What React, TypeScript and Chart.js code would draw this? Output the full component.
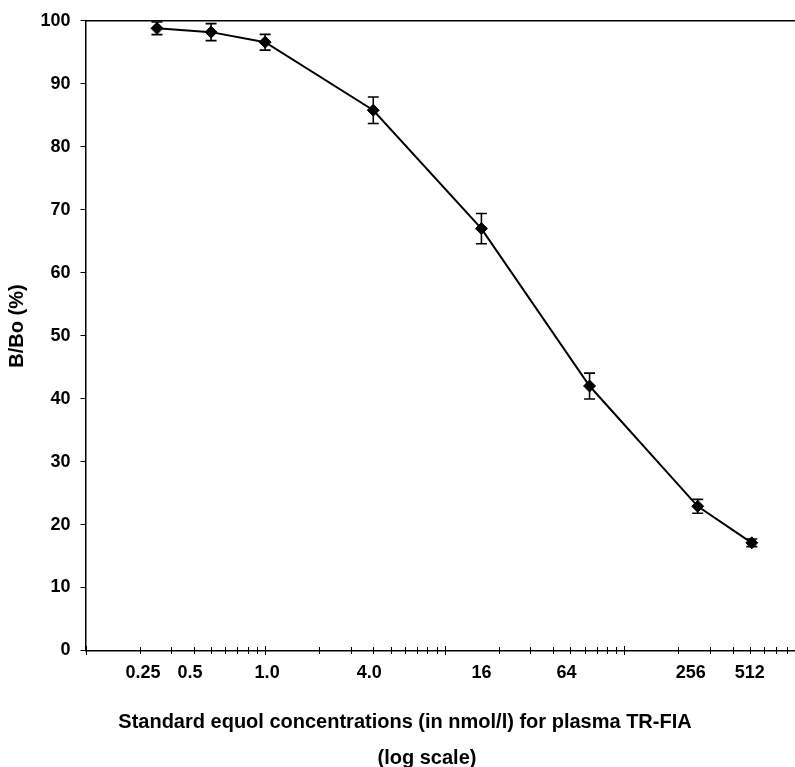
import React, { useEffect, useRef } from 'react';
import { Chart, registerables } from 'chart.js';

Chart.register(...registerables);

// ---- data ----
const concentrations = [0.25, 0.5, 1, 4, 16, 64, 256, 512];
const bBoPercent = [98.8, 98.2, 96.6, 85.8, 67.0, 42.0, 22.9, 17.1];
const errorValues = [1.0, 1.35, 1.25, 2.1, 2.4, 2.05, 1.1, 0.6];
const xTickLabelValues = [0.25, 0.5, 1, 4, 16, 64, 256, 512];
const xTickLabels = ['0.25', '0.5', '1.0', '4.0', '16', '64', '256', '512'];
const xTitleLines = ['Standard equol concentrations (in nmol/l) for plasma TR-FIA', '(log scale)'];
const yTitle = 'B/Bo (%)';

// ---- styling (label nudges in px, as placed in the original figure) ----
const xLabelNudges = [-14, -21, 2, -4, 0, -23, -7, -2];
const FONT = '"Liberation Sans", Arial, Helvetica, sans-serif';

const X_MIN = 0.1;
const X_MAX = 1000;

function buildLogTicks() {
  const ticks: { v: number; major: boolean }[] = [];
  for (let d = X_MIN; d < X_MAX * 0.999; d *= 10) {
    for (let m = 1; m <= 9; m++) ticks.push({ v: +(m * d).toPrecision(6), major: m === 1 });
  }
  ticks.push({ v: X_MAX, major: true });
  return ticks;
}

const decorPlugin = {
  id: 'decor',
  afterDatasetsDraw(chart: any) {
    const { ctx, chartArea, scales } = chart;
    const x = scales.x;
    const y = scales.y;
    ctx.save();
    ctx.strokeStyle = '#000';
    ctx.fillStyle = '#000';
    ctx.lineWidth = 1.5;

    // top frame line
    ctx.beginPath();
    ctx.moveTo(chartArea.left, chartArea.top);
    ctx.lineTo(chart.width, chartArea.top);
    ctx.stroke();

    // x-axis tick marks (crossing the axis)
    const y0 = chartArea.bottom;
    ctx.lineWidth = 1;
    buildLogTicks().forEach((t) => {
      const px = Math.round(x.getPixelForValue(t.v)) + 0.5;
      const h = t.major ? 4.5 : 3.5;
      ctx.beginPath();
      ctx.moveTo(px, y0 - h);
      ctx.lineTo(px, y0 + h);
      ctx.stroke();
    });

    // error bars
    ctx.lineWidth = 1.6;
    concentrations.forEach((c, i) => {
      const px = x.getPixelForValue(c);
      const top = y.getPixelForValue(bBoPercent[i] + errorValues[i]);
      const bot = y.getPixelForValue(bBoPercent[i] - errorValues[i]);
      const cap = 5.5;
      ctx.beginPath();
      ctx.moveTo(px, top);
      ctx.lineTo(px, bot);
      ctx.moveTo(px - cap, top);
      ctx.lineTo(px + cap, top);
      ctx.moveTo(px - cap, bot);
      ctx.lineTo(px + cap, bot);
      ctx.stroke();
    });

    // x tick labels
    ctx.font = `bold 18px ${FONT}`;
    ctx.textAlign = 'center';
    ctx.textBaseline = 'middle';
    xTickLabelValues.forEach((v, i) => {
      const px = x.getPixelForValue(v) + xLabelNudges[i];
      ctx.fillText(xTickLabels[i], px, y0 + 23);
    });

    // x title
    ctx.font = `bold 20px ${FONT}`;
    ctx.fillText(xTitleLines[0], 405, 722);
    ctx.fillText(xTitleLines[1], 427, 758);

    // y title
    ctx.save();
    ctx.translate(17, 326);
    ctx.rotate(-Math.PI / 2);
    ctx.fillText(yTitle, 0, 0);
    ctx.restore();

    ctx.restore();
  },
};

export default function App() {
  const ref = useRef<HTMLCanvasElement | null>(null);

  useEffect(() => {
    if (!ref.current) return;
    const chart = new Chart(ref.current, {
      type: 'line',
      data: {
        datasets: [
          {
            data: concentrations.map((c, i) => ({ x: c, y: bBoPercent[i] })),
            borderColor: '#000',
            backgroundColor: '#000',
            borderWidth: 2,
            pointStyle: 'rectRot',
            pointRadius: 6,
            pointBorderWidth: 1,
            tension: 0,
          },
        ],
      },
      options: {
        animation: false,
        responsive: false,
        devicePixelRatio: 1,
        layout: { padding: { top: 19.5, right: 5.5, left: 0, bottom: 0 } },
        plugins: { legend: { display: false }, tooltip: { enabled: false } },
        scales: {
          x: {
            type: 'logarithmic',
            min: X_MIN,
            max: X_MAX,
            grid: { display: false },
            ticks: { display: false },
            border: { display: true, color: '#000', width: 1.5 },
            afterFit: (s: any) => {
              s.height = 116.5;
            },
          },
          y: {
            type: 'linear',
            min: 0,
            max: 100,
            ticks: {
              stepSize: 10,
              color: '#000',
              padding: 10,
              font: { family: FONT, size: 18, weight: 'bold' },
            },
            grid: {
              display: true,
              drawOnChartArea: false,
              drawTicks: true,
              tickLength: 5,
              color: '#000',
              lineWidth: 1,
            },
            border: { display: true, color: '#000', width: 1.5 },
            afterFit: (s: any) => {
              s.width = 85.5;
            },
          },
        },
      },
      plugins: [decorPlugin],
    } as any);
    return () => chart.destroy();
  }, []);

  return (
    <div style={{ position: 'absolute', left: 0, top: 0, width: 795, height: 767, overflow: 'hidden', background: '#fff' }}>
      <canvas ref={ref} width={811} height={767} style={{ display: 'block', width: 811, height: 767 }} />
    </div>
  );
}
